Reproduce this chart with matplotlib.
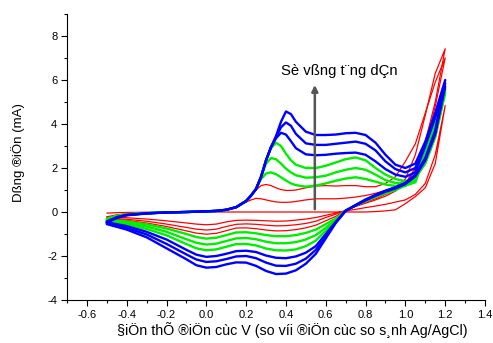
import numpy as np
import matplotlib
matplotlib.use("Agg")
import matplotlib.pyplot as plt
from matplotlib.ticker import MultipleLocator

plt.rcParams['font.family'] = ['Liberation Sans', 'DejaVu Sans']

# potential grids (V) for the forward (anodic) and reverse (cathodic) sweeps
v_fwd = [-0.5, -0.45, -0.4, -0.3, -0.2, -0.1, 0.0, 0.05, 0.1, 0.15, 0.2, 0.225, 0.25, 0.275,
         0.3, 0.325, 0.35, 0.375, 0.4, 0.425, 0.45, 0.5, 0.55, 0.6, 0.65, 0.7, 0.75, 0.8,
         0.85, 0.9, 0.95, 1.0, 1.05, 1.1, 1.15, 1.2]
v_rev = [1.2, 1.15, 1.1, 1.05, 1.0, 0.95, 0.9, 0.85, 0.8, 0.75, 0.7, 0.65, 0.6, 0.55, 0.5,
         0.45, 0.4, 0.35, 0.3, 0.25, 0.2, 0.15, 0.1, 0.05, 0.0, -0.05, -0.1, -0.2, -0.3,
         -0.4, -0.5]

# current (mA), cycles 1-3 (red)
red_fwd = [
    [-0.05, -0.03, -0.02, -0.01, 0.0, 0.0, 0.0, 0.0, 0.0, 0.0, 0.0, 0.0, 0.0, 0.0, 0.0, 0.0, 0.0, 0.0,
     0.0, 0.0, 0.0, 0.0, 0.0, 0.0, 0.0, 0.0, 0.0, 0.0, 0.02, 0.05, 0.1, 0.38, 0.7, 1.1, 2.2, 4.84],
    [-0.22, -0.13, -0.08, -0.04, -0.02, 0.0, 0.03, 0.05, 0.1, 0.22, 0.45, 0.55, 0.62, 0.6, 0.55, 0.5,
     0.46, 0.44, 0.44, 0.45, 0.48, 0.55, 0.6, 0.6, 0.6, 0.63, 0.68, 0.75, 0.85, 0.98, 1.15, 1.5, 2.6,
     4.4, 6.3, 7.42],
    [-0.27, -0.15, -0.09, -0.05, -0.02, 0.0, 0.03, 0.05, 0.1, 0.22, 0.5, 0.75, 1.0, 1.2, 1.25, 1.2,
     1.1, 1.02, 0.98, 0.98, 1.0, 1.1, 1.18, 1.2, 1.18, 1.2, 1.2, 1.15, 1.15, 1.3, 1.6, 2.3, 3.1, 4.5,
     5.9, 7.0],
]
red_rev = [
    [4.84, 2.6, 1.3, 0.8, 0.55, 0.45, 0.35, 0.27, 0.2, 0.12, 0.05, -0.05, -0.15, -0.25, -0.32, -0.37,
     -0.41, -0.42, -0.4, -0.38, -0.37, -0.38, -0.45, -0.55, -0.58, -0.55, -0.5, -0.4, -0.32, -0.26, -0.22],
    [7.42, 5.0, 3.2, 2.0, 1.3, 0.95, 0.72, 0.55, 0.4, 0.25, 0.08, -0.1, -0.25, -0.42, -0.52, -0.58,
     -0.62, -0.63, -0.6, -0.56, -0.54, -0.56, -0.66, -0.78, -0.82, -0.78, -0.7, -0.55, -0.42, -0.33, -0.27],
    [7.0, 4.8, 3.0, 1.9, 1.3, 1.0, 0.8, 0.6, 0.45, 0.28, 0.08, -0.2, -0.4, -0.6, -0.72, -0.8, -0.85,
     -0.86, -0.82, -0.76, -0.72, -0.73, -0.85, -0.97, -1.01, -0.96, -0.86, -0.66, -0.5, -0.38, -0.3],
]

# cycles 4-6 (green)
green_fwd = [
    [-0.3, -0.17, -0.1, -0.05, -0.02, 0.0, 0.03, 0.05, 0.1, 0.22, 0.5, 0.75, 1.05, 1.5, 1.75, 1.8,
     1.72, 1.58, 1.43, 1.3, 1.22, 1.15, 1.2, 1.3, 1.42, 1.52, 1.58, 1.5, 1.38, 1.25, 1.18, 1.2, 1.35,
     2.6, 4.0, 5.4],
    [-0.35, -0.19, -0.11, -0.05, -0.02, 0.0, 0.03, 0.05, 0.1, 0.22, 0.5, 0.75, 1.05, 1.6, 2.2, 2.45,
     2.4, 2.2, 1.97, 1.8, 1.67, 1.56, 1.58, 1.65, 1.8, 1.92, 2.0, 1.92, 1.7, 1.45, 1.32, 1.28, 1.4,
     2.7, 4.1, 5.5],
    [-0.4, -0.21, -0.12, -0.06, -0.02, 0.0, 0.03, 0.05, 0.1, 0.22, 0.5, 0.75, 1.05, 1.6, 2.35, 2.9,
     3.15, 3.0, 2.65, 2.35, 2.15, 2.0, 2.0, 2.1, 2.25, 2.4, 2.48, 2.35, 2.0, 1.7, 1.5, 1.4, 1.55,
     2.8, 4.2, 5.6],
]
green_rev = [
    [5.4, 3.4, 2.2, 1.55, 1.2, 1.0, 0.85, 0.68, 0.5, 0.3, 0.06, -0.3, -0.55, -0.8, -0.95, -1.05, -1.1,
     -1.1, -1.05, -0.97, -0.92, -0.93, -1.05, -1.17, -1.21, -1.14, -1.0, -0.75, -0.56, -0.43, -0.35],
    [5.5, 3.45, 2.25, 1.58, 1.22, 1.02, 0.87, 0.7, 0.5, 0.3, 0.06, -0.35, -0.72, -1.05, -1.25, -1.37,
     -1.42, -1.42, -1.35, -1.24, -1.18, -1.2, -1.32, -1.44, -1.48, -1.4, -1.24, -0.9, -0.66, -0.49, -0.4],
    [5.6, 3.5, 2.3, 1.6, 1.25, 1.05, 0.9, 0.72, 0.52, 0.3, 0.06, -0.4, -0.85, -1.3, -1.55, -1.7, -1.75,
     -1.74, -1.66, -1.52, -1.45, -1.46, -1.58, -1.7, -1.74, -1.65, -1.46, -1.06, -0.77, -0.56, -0.43],
]

# cycles 7-9 (blue)
blue_fwd = [
    [-0.43, -0.23, -0.13, -0.06, -0.02, 0.0, 0.03, 0.05, 0.1, 0.22, 0.5, 0.75, 1.05, 1.6, 2.35, 2.95,
     3.35, 3.6, 3.52, 3.22, 2.9, 2.62, 2.58, 2.6, 2.65, 2.68, 2.7, 2.6, 2.3, 1.95, 1.7, 1.6, 1.8, 3.0,
     4.3, 5.7],
    [-0.47, -0.25, -0.14, -0.06, -0.02, 0.0, 0.03, 0.05, 0.1, 0.22, 0.5, 0.75, 1.05, 1.6, 2.35, 2.95,
     3.4, 3.85, 4.07, 3.92, 3.55, 3.12, 3.05, 3.05, 3.1, 3.15, 3.2, 3.1, 2.8, 2.3, 1.95, 1.8, 2.0, 3.1,
     4.4, 5.85],
    [-0.5, -0.27, -0.15, -0.07, -0.02, 0.0, 0.03, 0.05, 0.1, 0.22, 0.5, 0.75, 1.05, 1.6, 2.35, 2.95,
     3.45, 4.1, 4.57, 4.45, 4.1, 3.65, 3.5, 3.5, 3.52, 3.58, 3.6, 3.5, 3.15, 2.6, 2.15, 2.0, 2.2, 3.2,
     4.5, 6.0],
]
blue_rev = [
    [5.7, 3.55, 2.35, 1.62, 1.27, 1.07, 0.92, 0.74, 0.53, 0.3, 0.06, -0.45, -1.0, -1.55, -1.85, -2.02,
     -2.1, -2.08, -1.98, -1.82, -1.76, -1.78, -1.9, -2.0, -2.04, -1.94, -1.72, -1.25, -0.9, -0.64, -0.47],
    [5.85, 3.6, 2.4, 1.65, 1.3, 1.1, 0.95, 0.76, 0.55, 0.3, 0.06, -0.48, -1.12, -1.72, -2.12, -2.35,
     -2.45, -2.44, -2.3, -2.1, -2.0, -2.02, -2.14, -2.24, -2.27, -2.16, -1.93, -1.45, -1.02, -0.72, -0.5],
    [6.0, 3.7, 2.45, 1.7, 1.33, 1.12, 0.97, 0.78, 0.57, 0.32, 0.05, -0.5, -1.2, -1.9, -2.35, -2.65,
     -2.8, -2.82, -2.68, -2.45, -2.3, -2.29, -2.38, -2.5, -2.53, -2.42, -2.15, -1.65, -1.15, -0.8, -0.55],
]

fig = plt.figure(figsize=(4.93, 3.43), dpi=100)
ax = fig.add_axes([67 / 493, 1 - 300 / 343, 418 / 493, 286 / 343])

v_all = np.concatenate([v_fwd, v_rev])
for fwd, rev, col, lw in [(red_fwd, red_rev, '#ff0000', 0.9),
                          (green_fwd, green_rev, '#00ee00', 1.7),
                          (blue_fwd, blue_rev, '#0000ff', 1.7)]:
    for f, r in zip(fwd, rev):
        ax.plot(v_all, np.concatenate([f, r]), color=col, lw=lw,
                solid_joinstyle='round', solid_capstyle='round')

ax.annotate('', xy=(0.545, 5.9), xytext=(0.545, 0.0),
            arrowprops=dict(arrowstyle='-|>', color='#555555', lw=1.8, mutation_scale=9))
ax.text(0.67, 6.39, 'Sè vßng t¨ng dÇn', ha='center', va='center', fontsize=10.7)

ax.set_xlim(-0.7, 1.4)
ax.set_ylim(-4, 9)
ax.xaxis.set_minor_locator(MultipleLocator(0.1))
ax.yaxis.set_minor_locator(MultipleLocator(1))
ax.set_yticks([-4, -2, 0, 2, 4, 6, 8])
ax.set_xticks(np.arange(-0.6, 1.41, 0.2))
ax.set_xticklabels(['-0.6', '-0.4', '-0.2', '0.0', '0.2', '0.4', '0.6', '0.8', '1.0', '1.2', '1.4'])
ax.set_yticklabels(['-4', '-2', '0', '2', '4', '6', '8'])
ax.tick_params(which='major', direction='out', length=4, width=0.8, labelsize=8, pad=3)
ax.tick_params(which='minor', direction='out', length=2, width=0.8)
ax.spines['top'].set_visible(False)
ax.spines['right'].set_visible(False)

ax.set_xlabel('§iÖn thÕ ®iÖn cùc V (so víi ®iÖn cùc so s¸nh Ag/AgCl)', fontsize=10.3)
ax.set_ylabel('Dßng ®iÖn (mA)', fontsize=9.5)
ax.xaxis.set_label_coords(0.538, -0.105)
ax.yaxis.set_label_coords(-0.116, 0.517)
ax.xaxis.label.set_va('center')
ax.yaxis.label.set_va('center')

fig.savefig('out.png', dpi=100)
